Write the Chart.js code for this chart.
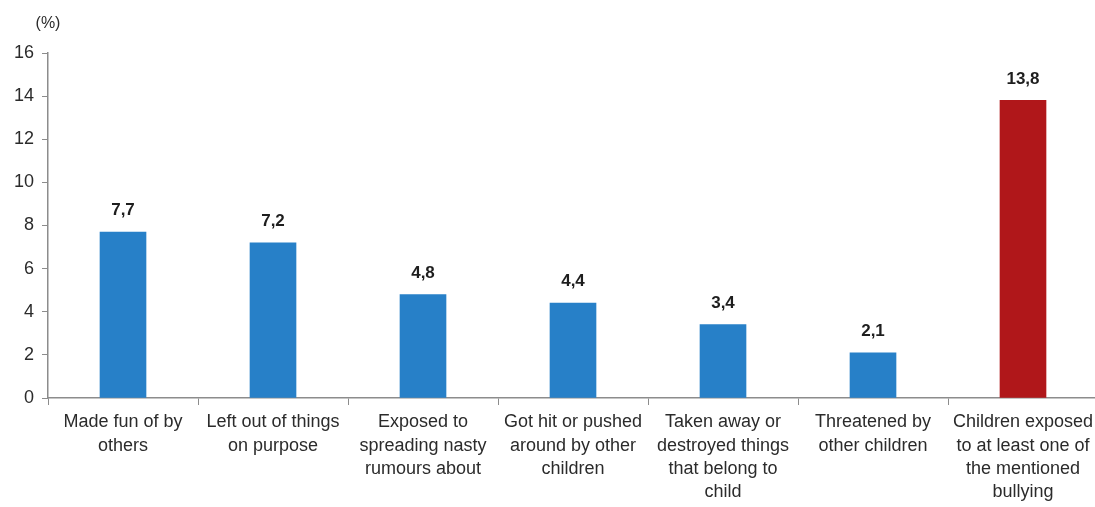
<!DOCTYPE html>
<html>
<head>
<meta charset="utf-8">
<script src="https://cdn.jsdelivr.net/npm/chart.js@4"></script>
<style>
  html, body { margin: 0; padding: 0; background: #fff; overflow: hidden; }
  #wrap { position: relative; width: 1100px; height: 507px; }
</style>
</head>
<body>
<div id="wrap"><canvas id="bullyChart"></canvas></div>
<script>
const categories = [
  ["Made fun of by", "others"],
  ["Left out of things", "on purpose"],
  ["Exposed to", "spreading nasty", "rumours about"],
  ["Got hit or pushed", "around by other", "children"],
  ["Taken away or", "destroyed things", "that belong to", "child"],
  ["Threatened by", "other children"],
  ["Children exposed", "to at least one of", "the mentioned", "bullying"]
];
const values = [7.7, 7.2, 4.8, 4.4, 3.4, 2.1, 13.8];
const barColors = ["#2780c8", "#2780c8", "#2780c8", "#2780c8", "#2780c8", "#2780c8", "#b0171a"];
const yTicks = [0, 2, 4, 6, 8, 10, 12, 14, 16];

const chartCanvas = document.getElementById("bullyChart");
const textColor = "#2b2b2b";
const axisColor = "#8c8c8c";
const fontFamily = "'Liberation Sans', Arial, sans-serif";

const valueLabelPlugin = {
  id: "valueLabels",
  afterDatasetsDraw(chart) {
    const { ctx } = chart;
    const meta = chart.getDatasetMeta(0);
    ctx.save();
    ctx.fillStyle = "#1e1e1e";
    ctx.font = "bold 17px " + fontFamily;
    ctx.textAlign = "center";
    ctx.textBaseline = "bottom";
    meta.data.forEach((bar, i) => {
      ctx.fillText(values[i].toFixed(1).replace(".", ","), bar.x, bar.y - 13);
    });
    ctx.restore();
  }
};

const unitLabelPlugin = {
  id: "unitLabel",
  afterDraw(chart) {
    const { ctx, chartArea } = chart;
    ctx.save();
    ctx.fillStyle = textColor;
    ctx.font = "16px " + fontFamily;
    ctx.textAlign = "center";
    ctx.textBaseline = "middle";
    ctx.fillText("(%)", chartArea.left, 24);
    ctx.restore();
  }
};

new Chart(chartCanvas, {
  type: "bar",
  data: {
    labels: categories,
    datasets: [
      {
        data: values,
        backgroundColor: barColors,
        borderWidth: 0,
        barThickness: 46
      }
    ]
  },
  options: {
    responsive: true,
    maintainAspectRatio: false,
    animation: false,
    layout: {
      padding: { top: 53, right: 2, left: 0, bottom: 0 }
    },
    plugins: {
      legend: { display: false },
      tooltip: { enabled: false }
    },
    scales: {
      x: {
        grid: {
          display: true,
          drawOnChartArea: false,
          tickLength: 7,
          color: axisColor
        },
        border: { color: axisColor, width: 1.5 },
        ticks: {
          color: textColor,
          font: { family: fontFamily, size: 18, lineHeight: 1.28 },
          maxRotation: 0,
          autoSkip: false,
          padding: 6
        },
        afterFit(scale) {
          scale.height = 109;
        }
      },
      y: {
        min: 0,
        max: 16,
        afterBuildTicks(scale) {
          scale.ticks = yTicks.map((v) => ({ value: v }));
        },
        grid: {
          display: true,
          drawOnChartArea: false,
          tickLength: 6,
          color: axisColor
        },
        border: { color: axisColor, width: 1.5 },
        ticks: {
          color: textColor,
          font: { family: fontFamily, size: 18 },
          padding: 8
        },
        afterFit(scale) {
          scale.width = 48;
        }
      }
    }
  },
  plugins: [valueLabelPlugin, unitLabelPlugin]
});
</script>
</body>
</html>
